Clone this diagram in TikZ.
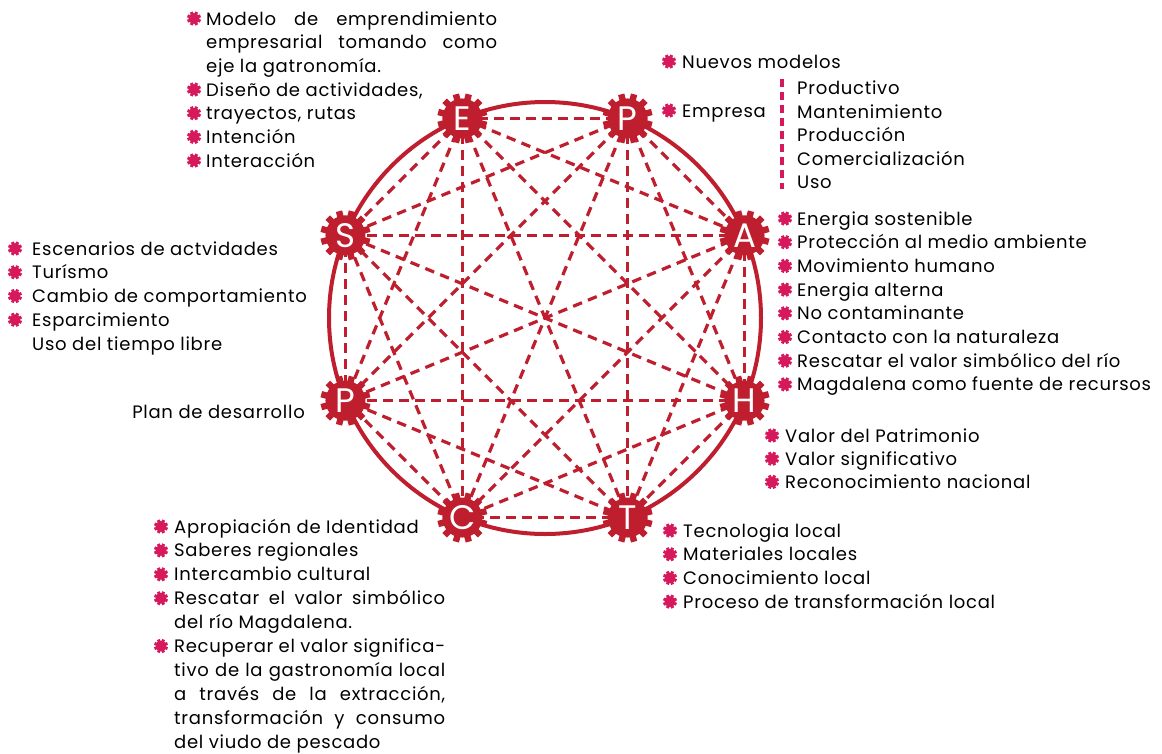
\documentclass[tikz,border=0pt]{standalone}
\usepackage{fontspec}
\setmainfont{Poppins}
\newfontfamily\listfont{Poppins}[LetterSpace=4]
\usetikzlibrary{calc,positioning}
\definecolor{gearred}{RGB}{190,30,45}
\definecolor{bulpink}{RGB}{214,24,92}
\tikzset{
  txt/.style={anchor=base west,inner sep=0pt,font=\listfont\fontsize{18}{20}\selectfont},
  link/.style={gearred,line width=3.2pt,dash pattern=on 9.5pt off 6.5pt},
  gearbody/.style={circle,fill=gearred,minimum size=40pt,inner sep=0pt,text=white,font=\fontsize{34}{34}\selectfont},
  bul/.pic={\fill[bulpink] (0,0) circle (5.4pt);
    \foreach \a in {0,45,...,315}{\fill[bulpink,rotate=\a+22.5] (4pt,-1.5pt) rectangle (7pt,1.5pt);}}
}

\begin{document}
\begin{tikzpicture}[x=1pt,y=-1pt,line join=round]
\useasboundingbox (0,0) rectangle (1162,753);
\coordinate (O) at (545,318);
\foreach \n/\a in {E/112.5,P/67.5,A/22.5,H/-22.5,T/-67.5,C/-112.5,L/-157.5,S/157.5}
  \coordinate (\n) at ($(O)+(\a:216pt)$);
% every gear linked to every other
\foreach \u [count=\i] in {E,P,A,H,T,C,L,S}{
  \foreach \v [count=\j] in {E,P,A,H,T,C,L,S}{
    \ifnum\j>\i \draw[link] (\u)--(\v); \fi}}
\draw[gearred,line width=4pt] (O) circle (216pt);
\foreach \n/\l in {E/E,P/P,A/A,H/H,T/T,C/C,L/P,S/S}{
  \begin{scope}[shift={(\n)}]
    \foreach \t in {0,30,...,330}{\fill[gearred,rotate=\t+15] (17pt,-3.2pt) rectangle (25pt,3.2pt);}
  \end{scope}
  \node[gearbody] (g\n) at (\n) {\l};
}

% E
\foreach \k/\b/\t in {0/1/{\makebox[291pt][s]{Modelo de emprendimiento}},1/0/{\makebox[291pt][s]{empresarial tomando como}},2/0/{eje la gatronomía.},3/1/{Diseño de actividades,},4/1/{trayectos, rutas},5/1/Intención,6/1/Interacción}{
  \node[txt] (e\k) at (206,25+23.67*\k) {\t};
  \ifnum\b=1 \pic at ($(e\k.base west)+(-12,-6.5)$) {bul}; \fi}
% P
\foreach \k/\y/\t in {0/68/Nuevos modelos,1/117/Empresa}{
  \node[txt] (p\k) at (682,\y) {\t};
  \pic at ($(p\k.base west)+(-13,-6.5)$) {bul};}
\node[txt,anchor=north west,align=left,font=\listfont\fontsize{18}{23.4}\selectfont] (plist) at (797,81)
  {Productivo\\Mantenimiento\\Producción\\Comercialización\\Uso};
\draw[bulpink,line width=4pt,dash pattern=on 8pt off 5pt] ($(plist.north west)+(-15,-2)$)--($(plist.south west)+(-15,0)$);
% A
\foreach \k/\t in {0/Energia sostenible,1/Protección al medio ambiente,2/Movimiento humano,3/Energia alterna,4/No contaminante,5/Contacto con la naturaleza,6/Rescatar el valor simbólico del río,7/Magdalena como fuente de recursos}{
  \node[txt] (a\k) at (797,225+23.7*\k) {\t};
  \pic at ($(a\k.base west)+(-12,-6.5)$) {bul};}
% H
\foreach \k/\t in {0/Valor del Patrimonio,1/Valor significativo,2/Reconocimiento nacional}{
  \node[txt] (h\k) at (785,442+23.2*\k) {\t};
  \pic at ($(h\k.base west)+(-13,-6.5)$) {bul};}
% T
\foreach \k/\t in {0/Tecnologia local,1/Materiales locales,2/Conocimiento local,3/Proceso de transformación local}{
  \node[txt] (t\k) at (683,537+23.7*\k) {\t};
  \pic at ($(t\k.base west)+(-13,-6.5)$) {bul};}
% C
\foreach \k/\b/\t in {0/1/Apropiación de Identidad,1/1/Saberes regionales,2/1/Intercambio cultural,3/1/{\makebox[271pt][s]{Rescatar el valor simbólico}},4/0/{del río Magdalena.},5/1/{\makebox[271pt][s]{Recuperar el valor significa-}},6/0/{\makebox[271pt][s]{tivo de la gastronomía local}},7/0/{\makebox[271pt][s]{a través de la extracción,}},8/0/{\makebox[271pt][s]{transformación y consumo}},9/0/{del viudo de pescado}}{
  \node[txt] (c\k) at (174,533+23.9*\k) {\t};
  \ifnum\b=1 \pic at ($(c\k.base west)+(-13,-6.5)$) {bul}; \fi}
% S
\foreach \k/\b/\t in {0/1/Escenarios de actvidades,1/1/Turísmo,2/1/Cambio de comportamiento,3/1/Esparcimiento,4/0/Uso del tiempo libre}{
  \node[txt] (s\k) at (32,255+23.75*\k) {\t};
  \ifnum\b=1 \pic at ($(s\k.base west)+(-17,-6.5)$) {bul}; \fi}
% P left
\node[txt,anchor=base east] (plan) at (305,418) {Plan de desarrollo};
\end{tikzpicture}
\end{document}
